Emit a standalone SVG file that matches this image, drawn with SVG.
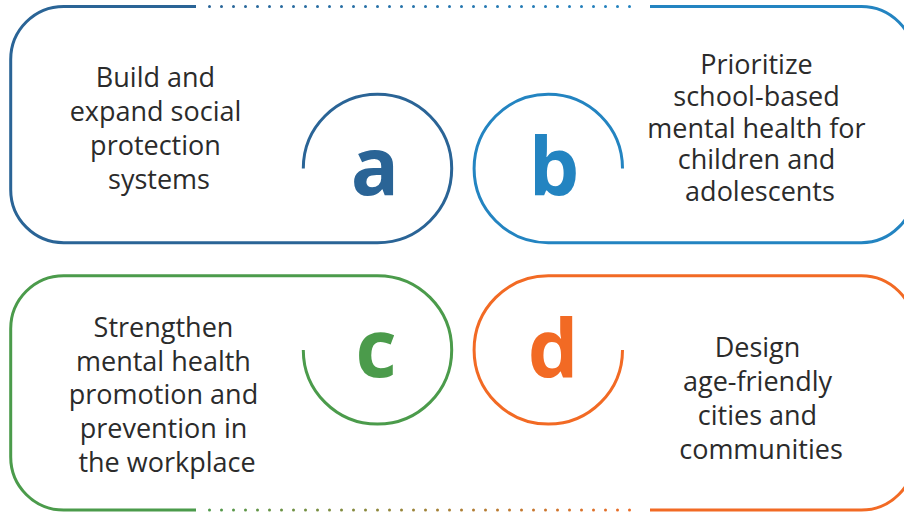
<svg xmlns="http://www.w3.org/2000/svg" width="904" height="512" viewBox="0 0 904 512">
  <defs>
    <linearGradient id="gTop" gradientUnits="userSpaceOnUse" x1="196" y1="0" x2="650" y2="0">
      <stop offset="0" stop-color="#2a6496"/>
      <stop offset="1" stop-color="#2384c1"/>
    </linearGradient>
    <linearGradient id="gBot" gradientUnits="userSpaceOnUse" x1="196" y1="0" x2="650" y2="0">
      <stop offset="0" stop-color="#4b9b4b"/>
      <stop offset="1" stop-color="#f26a24"/>
    </linearGradient>
  </defs>
  <style>
    .frame { fill: none; stroke-width: 3; stroke-linecap: butt; }
    .dots { fill: none; stroke-width: 3; stroke-linecap: round; stroke-dasharray: 0 12; }
    .label { font-family: "Open Sans", "Noto Sans", "DejaVu Sans", sans-serif; font-size: 27px; fill: #2b2b2b; text-anchor: middle; }
    .letter { font-family: "Open Sans", "Noto Sans", "DejaVu Sans", sans-serif; font-size: 80px; font-weight: 700; text-anchor: middle; }
  </style>

  <g id="connectors">
    <path class="dots" stroke="url(#gTop)" d="M209.5 6.5 H640"/>
    <path class="dots" stroke="url(#gBot)" d="M209.5 510 H640"/>
  </g>

  <g id="node-a">
    <path class="frame" stroke="#2a6496" d="M196 6.5 H63.7 A53 53 0 0 0 10.7 59.5 V189.7 A53 53 0 0 0 63.7 242.7 H377.5 A74.2 74.2 0 1 0 303.3 168.5"/>
    <text class="letter" x="375" y="195" fill="#2a6496">a</text>
    <text class="label">
      <tspan x="159" y="87">Build and</tspan>
      <tspan x="159" y="121">expand social</tspan>
      <tspan x="159" y="155">protection</tspan>
      <tspan x="159" y="189">systems</tspan>
    </text>
  </g>

  <g id="node-b">
    <path class="frame" stroke="#2384c1" d="M650 6.5 H861.3 A53 53 0 0 1 914.3 59.5 V189.7 A53 53 0 0 1 861.3 242.7 H548.3 A74.2 74.2 0 1 1 622.5 168.5"/>
    <text class="letter" x="554" y="195" fill="#2384c1">b</text>
    <text class="label">
      <tspan x="760" y="74">Prioritize</tspan>
      <tspan x="760" y="106">school-based</tspan>
      <tspan x="760" y="137.5">mental health for</tspan>
      <tspan x="760" y="169">children and</tspan>
      <tspan x="760" y="201">adolescents</tspan>
    </text>
  </g>

  <g id="node-c">
    <path class="frame" stroke="#4b9b4b" d="M196 510 H63.7 A53 53 0 0 1 10.7 457 V328.7 A53 53 0 0 1 63.7 275.7 H377.5 A74.2 74.2 0 1 1 303.3 349.9"/>
    <text class="letter" x="376" y="377" fill="#4b9b4b">c</text>
    <text class="label">
      <tspan x="167" y="337">Strengthen</tspan>
      <tspan x="167" y="370.5">mental health</tspan>
      <tspan x="167" y="404">promotion and</tspan>
      <tspan x="167" y="438">prevention in</tspan>
      <tspan x="167" y="472">the workplace</tspan>
    </text>
  </g>

  <g id="node-d">
    <path class="frame" stroke="#f26a24" d="M650 510 H861.3 A53 53 0 0 0 914.3 457 V328.7 A53 53 0 0 0 861.3 275.7 H548.3 A74.2 74.2 0 1 0 622.5 349.9"/>
    <text class="letter" x="553" y="377" fill="#f26a24">d</text>
    <text class="label">
      <tspan x="761" y="357">Design</tspan>
      <tspan x="761" y="390.5">age-friendly</tspan>
      <tspan x="761" y="425">cities and</tspan>
      <tspan x="761" y="459">communities</tspan>
    </text>
  </g>
</svg>
